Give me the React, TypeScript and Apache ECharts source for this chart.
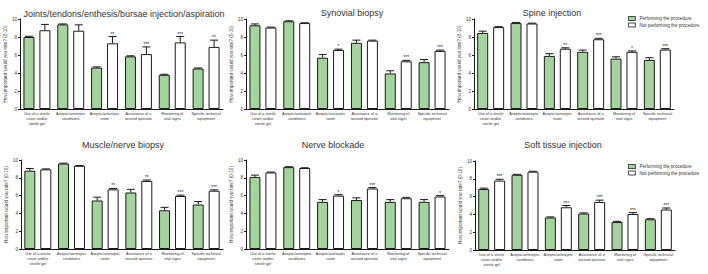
import React, { useEffect, useRef } from "react";
import * as echarts from "echarts";

const categories = [
  "Use of a sterile\ncover and/or\nsterile gel",
  "Aseptic/antiseptic\nconditions",
  "Aseptic/antiseptic\nroom",
  "Assistance of a\nsecond operator",
  "Monitoring of\nvital signs",
  "Specific technical\nequipment",
];

const panelTitles = [
  "Joints/tendons/enthesis/bursae injection/aspiration",
  "Synovial biopsy",
  "Spine injection",
  "Muscle/nerve biopsy",
  "Nerve blockade",
  "Soft tissue injection",
];

const seriesNames = ["Performing the procedure", "Not performing the procedure"];
const yTicks = [0, 2, 4, 6, 8, 10];

// Joints/tendons/enthesis/bursae injection/aspiration
const jointsPerf = [8.0, 9.4, 4.6, 5.85, 3.8, 4.5];
const jointsPerfErr = [0.08, 0.05, 0.08, 0.06, 0.06, 0.06];
const jointsNot = [8.75, 8.7, 7.3, 6.1, 7.4, 6.9];
const jointsNotErr = [0.65, 0.65, 0.75, 0.8, 0.65, 0.75];
const jointsStars = ["", "", "**", "***", "***", "**"];

// Synovial biopsy
const synPerf = [9.3, 9.75, 5.7, 7.35, 3.95, 5.2];
const synPerfErr = [0.15, 0.05, 0.35, 0.3, 0.3, 0.3];
const synNot = [9.05, 9.55, 6.55, 7.6, 5.3, 6.45];
const synNotErr = [0.05, 0.03, 0.1, 0.05, 0.1, 0.1];
const synStars = ["", "", "*", "", "***", "***"];

// Spine injection
const spinePerf = [8.45, 9.55, 5.9, 6.35, 5.6, 5.45];
const spinePerfErr = [0.2, 0.07, 0.25, 0.2, 0.2, 0.25];
const spineNot = [9.1, 9.5, 6.7, 7.75, 6.35, 6.6];
const spineNotErr = [0.05, 0.04, 0.1, 0.1, 0.1, 0.1];
const spineStars = ["", "", "**", "***", "*", "***"];

// Muscle/nerve biopsy
const musclePerf = [8.8, 9.6, 5.45, 6.35, 4.35, 5.0];
const musclePerfErr = [0.25, 0.05, 0.37, 0.35, 0.33, 0.33];
const muscleNot = [8.95, 9.35, 6.7, 7.65, 5.95, 6.55];
const muscleNotErr = [0.05, 0.03, 0.1, 0.1, 0.1, 0.1];
const muscleStars = ["", "", "**", "**", "***", "***"];

// Nerve blockade
const nervePerf = [8.1, 9.2, 5.3, 5.5, 5.3, 5.3];
const nervePerfErr = [0.2, 0.05, 0.25, 0.25, 0.25, 0.25];
const nerveNot = [8.6, 9.1, 6.0, 6.8, 5.7, 5.9];
const nerveNotErr = [0.05, 0.03, 0.1, 0.1, 0.1, 0.1];
const nerveStars = ["", "", "*", "***", "", "*"];

// Soft tissue injection
const softPerf = [6.85, 8.45, 3.65, 4.1, 3.15, 3.45];
const softPerfErr = [0.1, 0.05, 0.07, 0.07, 0.07, 0.07];
const softNot = [7.8, 8.8, 4.8, 5.4, 4.05, 4.55];
const softNotErr = [0.15, 0.05, 0.2, 0.2, 0.15, 0.17];
const softStars = ["***", "", "***", "***", "***", "***"];

const panels = [
  { perf: jointsPerf, perfErr: jointsPerfErr, not: jointsNot, notErr: jointsNotErr, stars: jointsStars },
  { perf: synPerf, perfErr: synPerfErr, not: synNot, notErr: synNotErr, stars: synStars },
  { perf: spinePerf, perfErr: spinePerfErr, not: spineNot, notErr: spineNotErr, stars: spineStars },
  { perf: musclePerf, perfErr: musclePerfErr, not: muscleNot, notErr: muscleNotErr, stars: muscleStars },
  { perf: nervePerf, perfErr: nervePerfErr, not: nerveNot, notErr: nerveNotErr, stars: nerveStars },
  { perf: softPerf, perfErr: softPerfErr, not: softNot, notErr: softNotErr, stars: softStars },
];

const FONT = "'Liberation Sans', Arial, Helvetica, sans-serif";
const GREEN = "#a2d49c";
const BAR_W = 11;
const BAR_GAP = 0.45;

const grids = [
  { left: 20, top: 19, width: 203, height: 90 },
  { left: 246, top: 19, width: 203, height: 90 },
  { left: 474, top: 19, width: 200, height: 90 },
  { left: 21, top: 160, width: 202, height: 89 },
  { left: 246, top: 160, width: 203, height: 89 },
  { left: 475, top: 161, width: 200, height: 89 },
];

const titlePos = [
  { x: 124, y: 14 },
  { x: 352, y: 13 },
  { x: 552, y: 13 },
  { x: 123, y: 145 },
  { x: 333, y: 145 },
  { x: 563, y: 145 },
];

export default function App() {
  const ref = useRef<HTMLDivElement>(null);

  useEffect(() => {
    if (!ref.current) return;
    const chart = echarts.init(ref.current, null, { renderer: "svg" });
    const offset = (BAR_W + BAR_W * BAR_GAP) / 2;

    const series: any[] = [];
    panels.forEach((p, pi) => {
      series.push({
        type: "bar",
        name: seriesNames[0],
        xAxisIndex: pi,
        yAxisIndex: pi,
        data: p.perf,
        barWidth: BAR_W,
        barGap: `${BAR_GAP * 100}%`,
        itemStyle: { color: GREEN, borderColor: "#1a1a1a", borderWidth: 1 },
      });
      series.push({
        type: "bar",
        name: seriesNames[1],
        xAxisIndex: pi,
        yAxisIndex: pi,
        data: p.not,
        barWidth: BAR_W,
        barGap: `${BAR_GAP * 100}%`,
        itemStyle: { color: "#ffffff", borderColor: "#1a1a1a", borderWidth: 1 },
      });
      series.push({
        type: "custom",
        xAxisIndex: pi,
        yAxisIndex: pi,
        z: 5,
        silent: true,
        encode: { x: 0, y: 1 },
        data: categories.map((_, i) => [i, p.perf[i], p.perfErr[i], p.not[i], p.notErr[i]]),
        renderItem: (params: any, api: any) => {
          const idx = api.value(0);
          const children: any[] = [];
          const pairs = [
            { v: api.value(1), e: api.value(2), dx: -offset, star: "" },
            { v: api.value(3), e: api.value(4), dx: offset, star: p.stars[params.dataIndex] },
          ];
          pairs.forEach((pr) => {
            const base = api.coord([idx, pr.v]);
            const top = api.coord([idx, pr.v + pr.e]);
            const x = base[0] + pr.dx;
            children.push({
              type: "line",
              shape: { x1: x, y1: base[1], x2: x, y2: top[1] },
              style: { stroke: "#1a1a1a", lineWidth: 1 },
            });
            children.push({
              type: "line",
              shape: { x1: x - 4, y1: top[1], x2: x + 4, y2: top[1] },
              style: { stroke: "#1a1a1a", lineWidth: 1 },
            });
            if (pr.star) {
              children.push({
                type: "text",
                x: x,
                y: top[1] - 0.5,
                style: {
                  text: pr.star,
                  fontSize: 5,
                  fontFamily: FONT,
                  fill: "#222",
                  align: "center",
                  verticalAlign: "bottom",
                },
              });
            }
          });
          return { type: "group", children };
        },
      });
    });

    const xAxis = grids.map((_, i) => ({
      type: "category",
      gridIndex: i,
      data: categories,
      axisLine: { lineStyle: { color: "#1a1a1a", width: 1 } },
      axisTick: { show: false },
      axisLabel: {
        interval: 0,
        fontSize: 3.8,
        lineHeight: 4.8,
        margin: 3,
        color: "#333",
        fontFamily: FONT,
      },
    }));

    const yAxis = grids.map((_, i) => ({
      type: "value",
      gridIndex: i,
      min: yTicks[0],
      max: yTicks[yTicks.length - 1],
      interval: 2,
      name: "How important would you rate? (0-10)",
      nameLocation: "middle",
      nameRotate: 90,
      nameGap: 9,
      nameTextStyle: { fontSize: 4.6, color: "#333", fontFamily: FONT },
      splitLine: { show: false },
      axisLine: { show: true, lineStyle: { color: "#1a1a1a", width: 1 } },
      axisTick: { show: true, length: 2, lineStyle: { color: "#1a1a1a" } },
      axisLabel: { fontSize: 4.5, margin: 3, color: "#333", fontFamily: FONT },
    }));

    const titles = panelTitles.map((t, i) => ({
      type: "text",
      x: titlePos[i].x,
      y: titlePos[i].y,
      style: {
        text: t,
        fontSize: 9,
        fontFamily: FONT,
        fill: "#333",
        align: "center",
        verticalAlign: "middle",
      },
    }));

    const legendBase = {
      data: seriesNames,
      orient: "vertical",
      icon: "rect",
      itemWidth: 7,
      itemHeight: 4,
      itemGap: 1.5,
      padding: 0,
      itemStyle: { borderWidth: 0.8, borderColor: "#1a1a1a" },
      textStyle: { fontSize: 4.6, color: "#333", fontFamily: FONT, padding: [0, 0, 0, -1] },
    };

    chart.setOption({
      animation: false,
      backgroundColor: "#ffffff",
      graphic: titles,
      legend: [
        { ...legendBase, left: 628, top: 16 },
        { ...legendBase, left: 628, top: 164 },
      ],
      grid: grids.map((g) => ({ ...g, containLabel: false })),
      xAxis,
      yAxis,
      series,
    });

    return () => chart.dispose();
  }, []);

  return (
    <div
      ref={ref}
      style={{ position: "fixed", left: 0, top: 0, width: 708, height: 274, background: "#fff" }}
    />
  );
}
